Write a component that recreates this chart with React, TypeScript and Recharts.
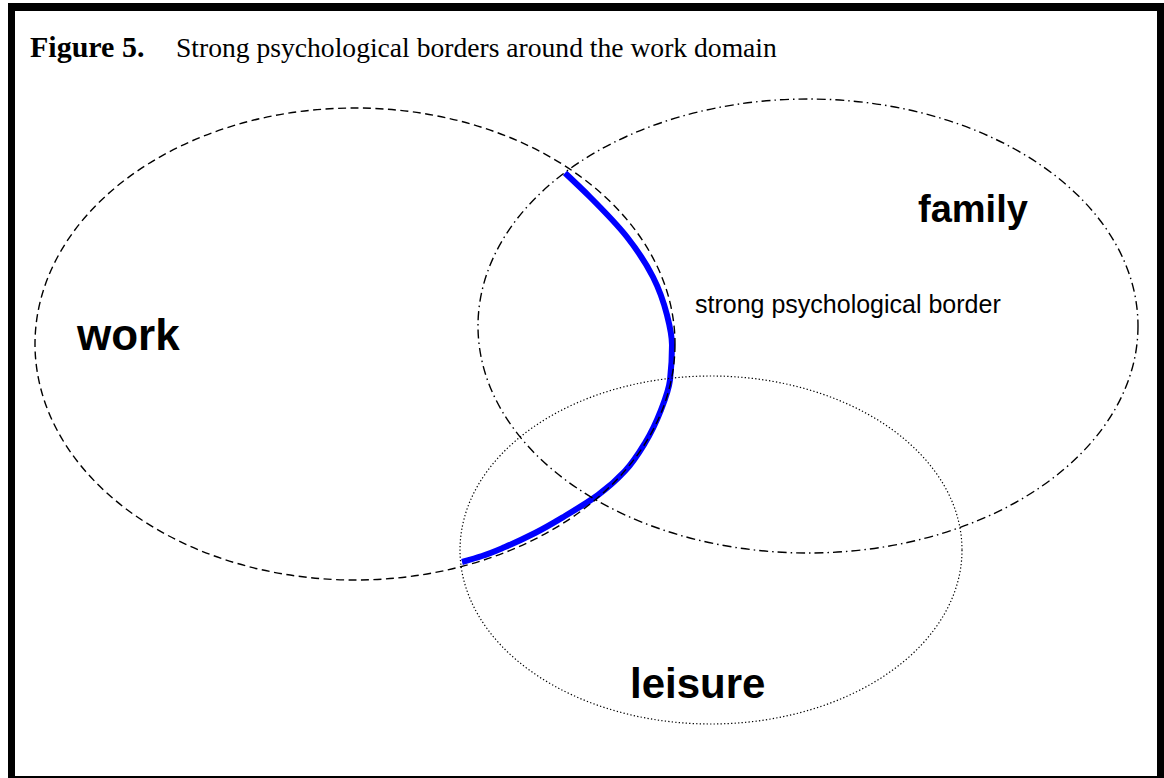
import { ComposedChart, Scatter, Line, XAxis, YAxis } from "recharts";

const W = 1164;
const H = 778;

// domain ellipses (centre + radii, in picture units)
const domains = ["work", "family", "leisure"];
const centerX = [355, 808, 711];
const centerY = [344, 326, 550];
const radiusX = [320, 330, 251];
const radiusY = [236, 227, 174];

// the strong border, traced along the edge of the work domain
const borderX = [565, 590, 627, 653, 667, 672, 670, 661, 645, 625, 598, 565, 535, 505, 482, 462];
const borderY = [173, 197, 237, 277, 315, 345, 380, 410, 443, 471, 495, 516, 533, 547, 556, 562];

const titleBold = "Figure 5.";
const titleText = "Strong psychological borders around the work domain";
const borderLabel = "strong psychological border";

const ellipseData = domains.map((name, i) => [
  { name, x: centerX[i], y: centerY[i], rx: radiusX[i], ry: radiusY[i] },
]);
const borderData = borderX.map((x, i) => ({ x, y: borderY[i] }));

const dashes = ["8 4.5", "9 4 1.5 4", "1.3 2.2"];
const widths = [1.4, 1.4, 1.2];

const kx = W / W;
const ky = H / H;

function makeEllipse(i: number) {
  return (props: any) => (
    <ellipse
      cx={props.cx}
      cy={props.cy}
      rx={props.payload.rx * kx}
      ry={props.payload.ry * ky}
      fill="none"
      stroke="#000"
      strokeWidth={widths[i]}
      strokeDasharray={dashes[i]}
    />
  );
}

const sans = "'Liberation Sans', Arial, sans-serif";
const serif = "'Liberation Serif', 'Times New Roman', serif";

export default function App() {
  return (
    <div style={{ position: "absolute", left: 0, top: 0, width: W, height: H, background: "#fff", overflow: "hidden" }}>
      <ComposedChart width={W} height={H} margin={{ top: 0, right: 0, bottom: 0, left: 0 }}>
        <XAxis type="number" dataKey="x" domain={[0, W]} hide allowDataOverflow />
        <YAxis type="number" dataKey="y" domain={[0, H]} reversed hide allowDataOverflow />
        {ellipseData.map((d, i) => (
          <Scatter key={domains[i]} data={d} shape={makeEllipse(i)} isAnimationActive={false} />
        ))}
        <Line
          data={borderData}
          dataKey="y"
          type="monotoneY"
          stroke="#0000ff"
          strokeWidth={6}
          dot={false}
          activeDot={false}
          isAnimationActive={false}
        />
      </ComposedChart>
      <svg width={W} height={H} style={{ position: "absolute", left: 0, top: 0, pointerEvents: "none" }}>
        <text x={30} y={57} fontFamily={serif} fontSize={30} fontWeight="bold" fill="#000">
          {titleBold}
        </text>
        <text x={176} y={57} fontFamily={serif} fontSize={27.6} fill="#000">
          {titleText}
        </text>
        <text x={77} y={350} fontFamily={sans} fontSize={44} fontWeight="bold" fill="#000">
          {domains[0]}
        </text>
        <text x={918} y={222} fontFamily={sans} fontSize={38} fontWeight="bold" fill="#000">
          {domains[1]}
        </text>
        <text x={630} y={698} fontFamily={sans} fontSize={42} fontWeight="bold" fill="#000">
          {domains[2]}
        </text>
        <text x={695} y={313} fontFamily={sans} fontSize={25} fill="#000">
          {borderLabel}
        </text>
      </svg>
      <div
        style={{
          position: "absolute",
          left: 8,
          top: 3,
          width: W - 8,
          height: H - 3,
          boxSizing: "border-box",
          borderLeft: "7px solid #000",
          borderTop: "8px solid #000",
          borderRight: "7px solid #000",
          borderBottom: "2px solid #000",
        }}
      />
    </div>
  );
}
